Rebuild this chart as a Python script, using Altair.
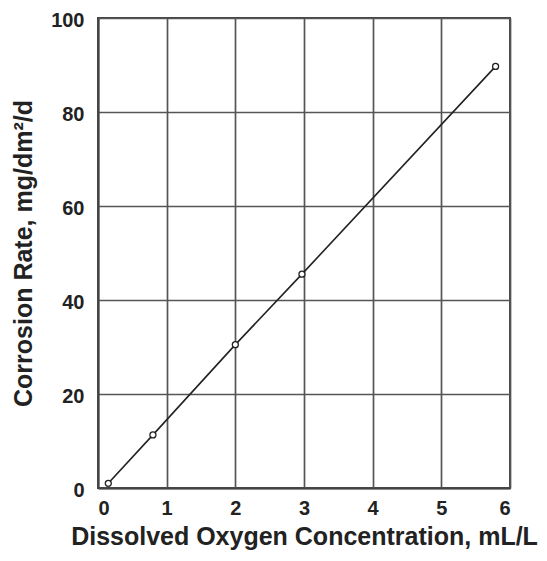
import altair as alt
import pandas as pd

oxygen = [0.15, 0.8, 2.0, 2.97, 5.79]
rate = [1.0, 11.3, 30.5, 45.5, 89.7]

df = pd.DataFrame({"oxygen": oxygen, "rate": rate})

x = alt.X("oxygen:Q", scale=alt.Scale(domain=[0, 6], nice=False),
          axis=alt.Axis(values=[0, 1, 2, 3, 4, 5, 6], title="Dissolved Oxygen Concentration, mL/L",
                        titlePadding=6, labelPadding=10))
y = alt.Y("rate:Q", scale=alt.Scale(domain=[0, 100], nice=False),
          axis=alt.Axis(values=[0, 20, 40, 60, 80, 100], title="Corrosion Rate, mg/dm²/d",
                        titlePadding=14, labelOffset=2, labelPadding=14))

line = alt.Chart(df).mark_line(color="#222222", strokeWidth=1.6).encode(x=x, y=y)
pts = alt.Chart(df).mark_point(shape="circle", filled=True, fill="white", stroke="#222222",
                               strokeWidth=1.3, size=36, opacity=1).encode(x=x, y=y)

chart = (line + pts).properties(
    width=412, height=470,
    autosize=alt.AutoSizeParams(type="none"),
    padding={"left": 90, "top": 10, "right": 29, "bottom": 65},
).configure_view(stroke="#444444", strokeWidth=2).configure_axis(
    grid=True, gridColor="#555555", gridWidth=1.7, gridOpacity=1,
    domain=True, domainColor="#444444", domainWidth=2,
    ticks=False,
    labelFont="Liberation Sans", labelFontWeight="bold", labelFontSize=20, labelColor="#222222",
    titleFont="Liberation Sans", titleFontWeight="bold", titleFontSize=25, titleColor="#222222",
)

chart.save("out.html", embed_options={"renderer": "svg", "actions": False})
